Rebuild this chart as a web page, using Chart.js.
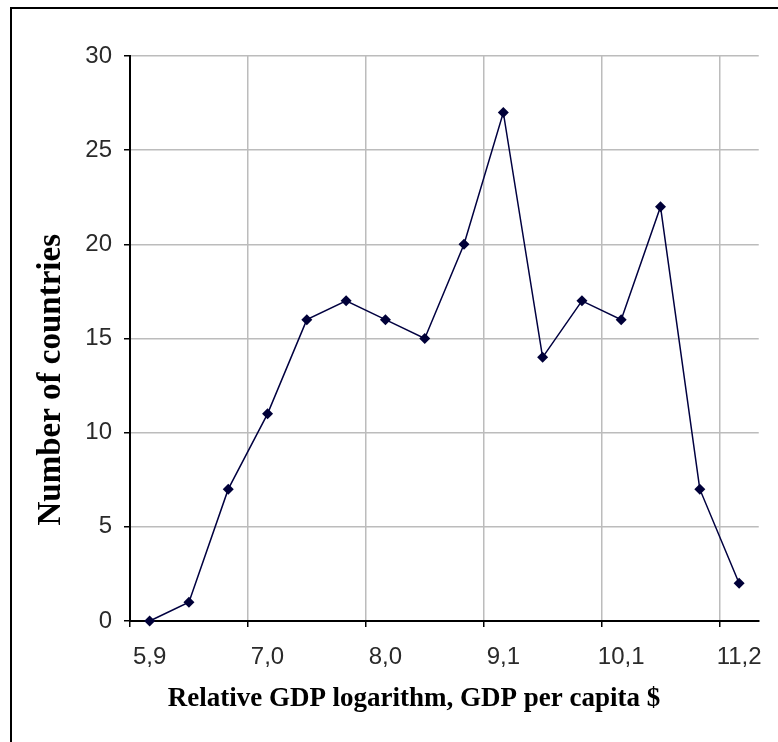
<!DOCTYPE html>
<html>
<head>
<meta charset="utf-8">
<script src="https://cdn.jsdelivr.net/npm/chart.js@4"></script>
<style>
    body { margin: 0; background: #fff; }
    #wrap { position: relative; width: 778px; height: 742px; overflow: hidden; }
    #frame { position: absolute; left: 10px; top: 7px; width: 800px; height: 800px;
             border-top: 2px solid #000; border-left: 2px solid #000; pointer-events: none; }
</style>
</head>
<body>
<div id="wrap">
    <canvas id="chart"></canvas>
    <div id="frame"></div>
</div>
<script>
const gdpLabels = ['5,9', '6,3', '6,6', '7,0', '7,3', '7,7', '8,0', '8,4', '8,7',
                   '9,1', '9,4', '9,8', '10,1', '10,5', '10,8', '11,2'];
const countries = [0, 1, 7, 11, 16, 17, 16, 15, 20, 27, 14, 17, 16, 22, 7, 2];
const yTicks = [0, 5, 10, 15, 20, 25, 30];

const pad = '\u00a0';
const yTitle = 'Number of countries' + pad.repeat(10);
const xTitle = 'Relative GDP logarithm, GDP per capita $' + pad.repeat(9);

window.addEventListener('load', () => {
    buildCountryChart();
});

function buildCountryChart() {
    const chartCtx = document.getElementById('chart').getContext('2d');

    new Chart(chartCtx, {
        type: 'line',
        data: {
            labels: gdpLabels,
            datasets: [{
                data: countries,
                borderColor: '#000040',
                borderWidth: 1.5,
                pointStyle: 'rectRot',
                pointRadius: 5.5,
                pointBackgroundColor: '#000038',
                pointBorderColor: '#000038',
                pointBorderWidth: 0,
                tension: 0,
                clip: false
            }]
        },
        options: {
            responsive: true,
            maintainAspectRatio: false,
            animation: false,
            layout: {
                padding: { top: 56, right: 14, left: 0, bottom: 0 }
            },
            plugins: {
                legend: { display: false },
                tooltip: { enabled: false }
            },
            scales: {
                x: {
                    offset: true,
                    afterFit: scale => { scale.height = 121; },
                    grid: {
                        offset: true,
                        color: c => c.index % 3 === 0 ? '#bcbcbc' : 'rgba(0,0,0,0)',
                        tickColor: c => c.index % 3 === 0 ? '#000' : 'rgba(0,0,0,0)',
                        tickLength: 6,
                        lineWidth: 1.5
                    },
                    border: { color: '#000', width: 2 },
                    ticks: {
                        autoSkip: false,
                        maxRotation: 0,
                        padding: 16,
                        color: '#2a2a2a',
                        font: { family: 'Liberation Sans', size: 24 },
                        callback: (v, i) => i % 3 === 0 ? gdpLabels[i] : ''
                    },
                    title: {
                        display: true,
                        text: xTitle,
                        color: '#000',
                        padding: { top: 0, bottom: 27 },
                        font: { family: 'Liberation Serif', size: 27, weight: 'bold' }
                    }
                },
                y: {
                    min: yTicks[0],
                    max: yTicks[yTicks.length - 1],
                    afterFit: scale => { scale.width = 130; },
                    afterBuildTicks: scale => { scale.ticks = yTicks.map(v => ({ value: v })); },
                    grid: {
                        color: c => c.index === 0 ? 'rgba(0,0,0,0)' : '#bcbcbc',
                        tickColor: '#000',
                        tickLength: 6,
                        lineWidth: 1.5
                    },
                    border: { color: '#000', width: 2 },
                    ticks: {
                        padding: 12,
                        color: '#2a2a2a',
                        font: { family: 'Liberation Sans', size: 24 }
                    },
                    title: {
                        display: true,
                        text: yTitle,
                        color: '#000',
                        padding: { top: 32, bottom: 0 },
                        font: { family: 'Liberation Serif', size: 33, weight: 'bold' }
                    }
                }
            }
        }
    });
}
</script>
</body>
</html>
